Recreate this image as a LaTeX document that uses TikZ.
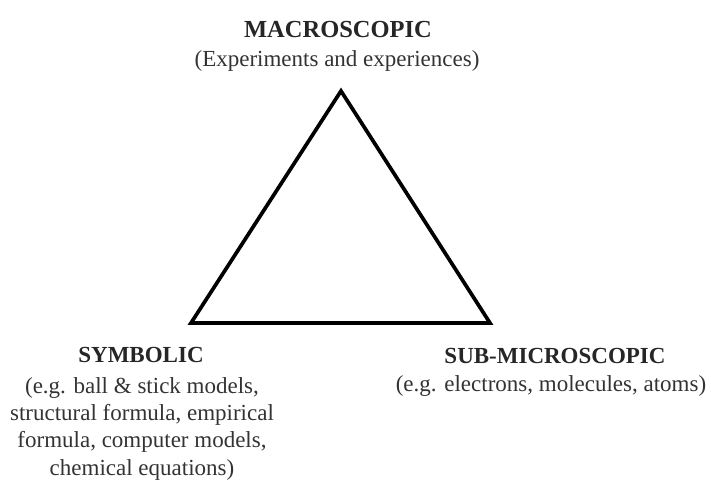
\documentclass[tikz,border=0pt]{standalone}
\usepackage{fontspec}
\setmainfont{Liberation Serif}
\tikzset{
  head/.style={font=\fontsize{23}{27}\selectfont\bfseries, inner sep=0pt, text=black!85},
  bighead/.style={font=\fontsize{24.5}{27}\selectfont\bfseries, inner sep=0pt, text=black!85},
  desc/.style={font=\fontsize{23}{27.3}\selectfont, inner sep=0pt, align=center, text=black!80},
  tri/.style={line width=3.7pt, line join=miter}
}
\begin{document}
\begin{tikzpicture}[x=1pt,y=1pt]
\useasboundingbox (0,0) rectangle (711,480);
\coordinate (top) at (341,389);
\coordinate (bl) at (191,157);
\coordinate (br) at (490,157);
\draw[tri] (top) -- (bl) -- (br) -- cycle;
\node[bighead] (mac) at (338,450) {MACROSCOPIC};
\node[desc] (macd) at (337,419) {(Experiments and experiences)};
\node[head] (sym) at (141,125) {SYMBOLIC};
\node[desc, anchor=north] (symd) at (142,103) {(e.g. ball \& stick models,\\structural formula, empirical\\formula, computer models,\\chemical equations)};
\node[head] (sub) at (555,124) {SUB-MICROSCOPIC};
\node[desc] (subd) at (551,94) {(e.g. electrons, molecules, atoms)};
\end{tikzpicture}
\end{document}
